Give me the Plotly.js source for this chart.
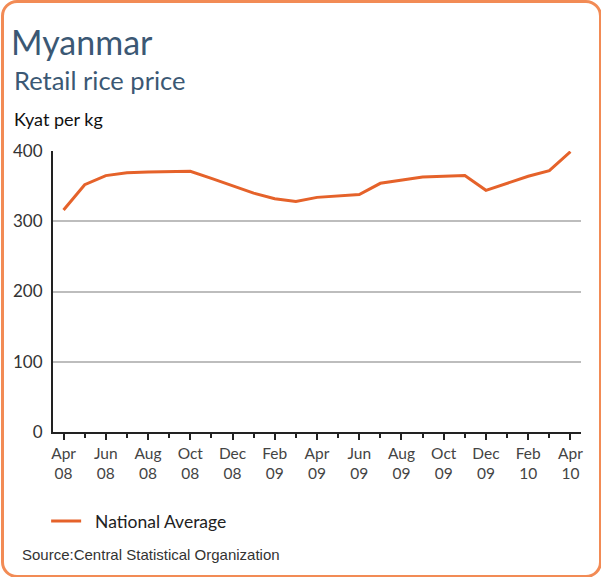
<!DOCTYPE html>
<html>
<head>
<meta charset="utf-8">
<script src="https://cdn.plot.ly/plotly-3.0.1.min.js"></script>
<style>
  html, body { margin:0; padding:0; background:#fff; }
  #wrap { position:relative; width:601px; height:577px; overflow:hidden; }
  #frame { position:absolute; left:1px; top:0px; width:595px; height:572px;
           border:3px solid #F28B55; border-radius:16px; box-sizing:content-box; }
  #chart { position:absolute; left:0; top:0; width:601px; height:577px; }
</style>
</head>
<body>
<div id="wrap">
  <div id="frame"></div>
  <div id="chart"></div>
</div>
<script>
// Monthly national average retail rice price, Apr 2008 - Apr 2010 (Kyat per kg)
const months = ["Apr 08","May 08","Jun 08","Jul 08","Aug 08","Sep 08","Oct 08","Nov 08","Dec 08",
                "Jan 09","Feb 09","Mar 09","Apr 09","May 09","Jun 09","Jul 09","Aug 09","Sep 09",
                "Oct 09","Nov 09","Dec 09","Jan 10","Feb 10","Mar 10","Apr 10"];
const nationalAverage = [316, 352, 365, 369, 370, 371, 371, 361, 351,
                         340, 332, 328, 334, 336, 338, 354, 359, 363,
                         364, 365, 344, 354, 364, 372, 399];
const tickLabels = ["Apr<br>08","Jun<br>08","Aug<br>08","Oct<br>08","Dec<br>08","Feb<br>09","Apr<br>09",
                    "Jun<br>09","Aug<br>09","Oct<br>09","Dec<br>09","Feb<br>10","Apr<br>10"];
const yTicks = [0, 100, 200, 300, 400];

const xIdx = months.map((m, i) => i);
const tickVals = tickLabels.map((t, i) => i * 2);

const trace = {
  x: xIdx,
  y: nationalAverage,
  text: months,
  type: 'scatter',
  mode: 'lines',
  name: '\u00A0\u00A0National Average',
  line: { color: '#E5622A', width: 3 },
  hovertemplate: '%{text}: %{y}<extra></extra>'
};

const FONT = 'Lato, "Open Sans", sans-serif';

const layout = {
  width: 601, height: 577,
  paper_bgcolor: 'rgba(0,0,0,0)',
  plot_bgcolor: 'rgba(0,0,0,0)',
  margin: { l: 53, r: 20, t: 151, b: 145 },
  font: { family: FONT, color: '#333' },
  title: {
    text: 'Myanmar',
    font: { family: FONT, size: 34, color: '#3B5874' },
    x: 11 / 601, xanchor: 'left', xref: 'container',
    y: 1 - 43 / 577, yanchor: 'middle', yref: 'container'
  },
  showlegend: true,
  legend: {
    x: -0.013, xanchor: 'left', y: -0.317, yanchor: 'middle',
    font: { family: FONT, size: 17.5, color: '#222' },
    bgcolor: 'rgba(0,0,0,0)'
  },
  xaxis: {
    range: [-0.5, 24.5],
    tickmode: 'array', tickvals: tickVals, ticktext: tickLabels,
    ticks: 'outside', ticklen: 6, tickwidth: 2, tickcolor: '#222',
    minor: { tickmode: 'linear', tick0: 0, dtick: 1, ticks: 'outside', ticklen: 4, tickwidth: 2, tickcolor: '#222', showgrid: false },
    showline: true, linecolor: '#222', linewidth: 2,
    showgrid: false, zeroline: false,
    tickfont: { family: FONT, size: 15.5, color: '#444' },
    fixedrange: true
  },
  yaxis: {
    range: [0, 400],
    tickmode: 'array', tickvals: yTicks,
    ticks: '', ticklabelstandoff: 5,
    showline: true, linecolor: '#222', linewidth: 2,
    showgrid: true, gridcolor: '#BDBDBD', gridwidth: 2,
    zeroline: false,
    tickfont: { family: FONT, size: 17, color: '#333' },
    fixedrange: true
  },
  annotations: [
    { text: 'Retail rice price', xref: 'paper', yref: 'paper',
      x: (12 - 53) / 528, y: (432 - 80) / 281, xanchor: 'left', yanchor: 'middle',
      showarrow: false, font: { family: FONT, size: 25.5, color: '#3B5874' } },
    { text: 'Kyat per kg', xref: 'paper', yref: 'paper',
      x: (12 - 53) / 528, y: (432 - 119) / 281, xanchor: 'left', yanchor: 'middle',
      showarrow: false, font: { family: FONT, size: 18, color: '#111' } },
    { text: 'Source:Central Statistical Organization', xref: 'paper', yref: 'paper',
      x: (20 - 53) / 528, y: (432 - 554) / 281, xanchor: 'left', yanchor: 'middle',
      showarrow: false, font: { family: '"Liberation Sans Narrow", "Arial Narrow", sans-serif', size: 15, color: '#333' } }
  ]
};

Plotly.newPlot('chart', [trace], layout, { displayModeBar: false, staticPlot: true });
</script>
</body>
</html>
